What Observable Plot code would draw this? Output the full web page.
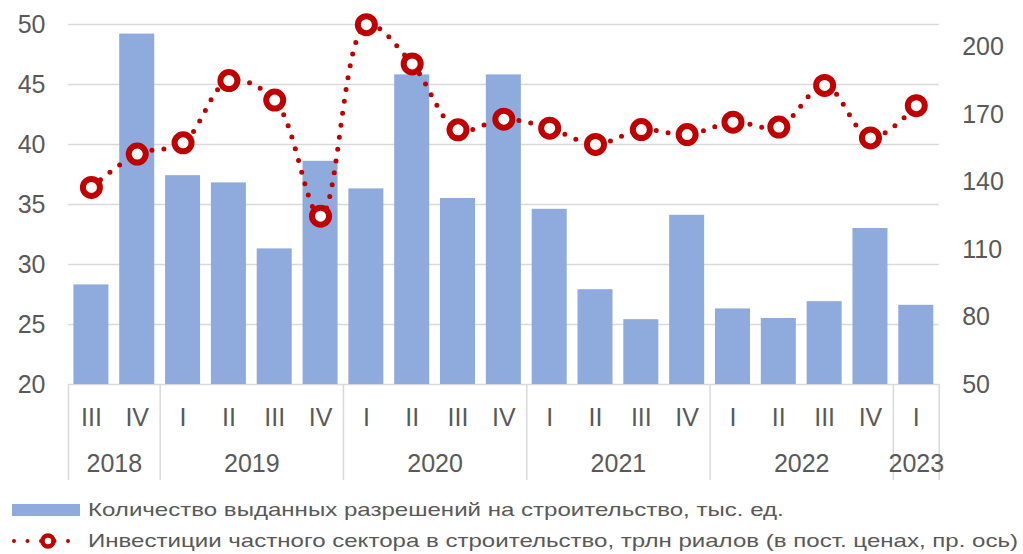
<!DOCTYPE html>
<html>
<head>
<meta charset="utf-8">
<script src="https://cdn.jsdelivr.net/npm/d3@7"></script>
<script src="https://cdn.jsdelivr.net/npm/@observablehq/plot@0.6"></script>
<style>
  body { margin: 0; background: white; font-family: "Liberation Sans", Arial, sans-serif; }
  #wrap { position: relative; width: 1023px; height: 554px; overflow: hidden; }
  .leg { position: absolute; left: 12px; display: flex; align-items: center; color: #595959; font-size: 19px; white-space: nowrap; }
  .leg svg { margin-right: 8px; flex: none; }
  .leg span { display: inline-block; transform: scaleX(1.266); transform-origin: left center; }
</style>
</head>
<body>
<div id="wrap">
  <div id="chart"></div>
  <div class="leg" style="top:497px;">
    <svg width="68" height="26"><rect x="0" y="7" width="68" height="12" fill="#8FAADC"></rect></svg>
    <span>Количество выданных разрешений на строительство, тыс. ед.</span>
  </div>
  <div class="leg" style="top:528px;">
    <svg width="68" height="26">
      <line x1="2" y1="13" x2="66" y2="13" stroke="#C00000" stroke-width="4" stroke-dasharray="0 13.5" stroke-linecap="round"></line>
      <circle cx="36" cy="13" r="5.5" fill="white" stroke="#C00000" stroke-width="4.5"></circle>
    </svg>
    <span>Инвестиции частного сектора в строительство, трлн риалов (в пост. ценах, пр. ось)</span>
  </div>
</div>
<script>
const quarters = ["III","IV","I","II","III","IV","I","II","III","IV","I","II","III","IV","I","II","III","IV","I"];
const years = ["2018","2018","2019","2019","2019","2019","2020","2020","2020","2020","2021","2021","2021","2021","2022","2022","2022","2022","2023"];
const permits = [28.3,49.2,37.4,36.8,31.3,38.6,36.3,45.8,35.5,45.8,34.6,27.9,25.4,34.1,26.3,25.5,26.9,33.0,26.6];
const investment = [137.6,152.4,157.4,185.1,176.4,124.8,209.9,192.5,163.2,167.9,163.9,156.7,163.3,161.1,166.6,164.4,182.9,159.6,173.9];
const leftTicks = [20,25,30,35,40,45,50];
const rightTicks = [50,80,110,140,170,200];

const textColor = "#595959";
const gridColor = "#d9d9d9";
const toLeft = r => 20 + (r - 50) * 30 / 160;
const toRight = v => 50 + (v - 20) * 160 / 30;

const rows = permits.map((v, i) => ({i, q: quarters[i], year: years[i], permits: v, inv: investment[i]}));
const yearGroups = d3.groups(rows, d => d.year).map(([year, g]) => ({
  year,
  center: d3.mean(g, d => d.i),
  start: d3.min(g, d => d.i) - 0.5
}));
const separators = [...yearGroups.map(g => g.start), rows.length - 0.5];
const half = 0.382;

const chart = Plot.plot({
  width: 1023,
  height: 490,
  marginLeft: 68,
  marginRight: 84.3,
  marginTop: 24,
  marginBottom: 106,
  x: {type: "linear", domain: [-0.5, rows.length - 0.5], axis: null},
  y: {domain: [20, 50], axis: null},
  style: {fontFamily: "'Liberation Sans', Arial, sans-serif", fontSize: "25px", color: textColor, background: "white", overflow: "visible"},
  marks: [
    Plot.ruleY(leftTicks, {stroke: gridColor, strokeWidth: 1.5}),
    Plot.rectY(rows, {x1: d => d.i - half, x2: d => d.i + half, y1: 20, y2: "permits", fill: "#8FAADC"}),
    Plot.ruleX(separators, {y1: 20, y2: 12, stroke: gridColor, strokeWidth: 1.5}),
    Plot.axisY({ticks: leftTicks, label: null, tickSize: 0, tickPadding: 23, fontSize: 25, fill: textColor}),
    Plot.axisY({ticks: rightTicks.map(toLeft), label: null, anchor: "right", tickSize: 0, tickPadding: 23, fontSize: 25, fill: textColor, tickFormat: v => String(Math.round(toRight(v)))}),
    Plot.text(rows, {x: "i", y: 20, dy: 33, text: "q", fontSize: 25, fill: textColor}),
    Plot.text(yearGroups, {x: "center", y: 20, dy: 79, text: "year", fontSize: 25, fill: textColor}),
    Plot.line(rows, {x: "i", y: d => toLeft(d.inv), curve: "catmull-rom", stroke: "#C00000", strokeWidth: 5, strokeDasharray: "0 12", strokeLinecap: "round"}),
    Plot.dot(rows, {x: "i", y: d => toLeft(d.inv), r: 8.5, stroke: "#C00000", strokeWidth: 6, fill: "white"})
  ]
});
document.getElementById("chart").appendChild(chart);
</script>
</body>
</html>
